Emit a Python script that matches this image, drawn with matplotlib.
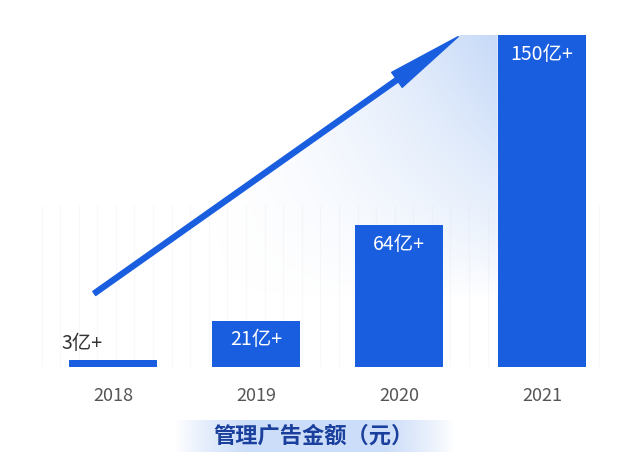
import numpy as np
import matplotlib
matplotlib.use("Agg")
import matplotlib.pyplot as plt
from matplotlib.patches import FancyArrowPatch, Polygon

plt.rcParams['font.family'] = ['Noto Sans CJK SC', 'DejaVu Sans']

years = ["2018", "2019", "2020", "2021"]
values = [3, 21, 64, 150]
labels = ["3亿+", "21亿+", "64亿+", "150亿+"]
title = "管理广告金额（元）"
blue = "#1a5ee0"

fig = plt.figure(figsize=(6.27, 4.72), dpi=100)
ax = fig.add_axes([0, 1 - 367/472, 1, 357/472])
ax.set_xlim(-113/143, 3 + 85/143)
ax.set_ylim(0, 150 * 357 / 332)
ax.axis("off")

# faint vertical lines
for xv in np.arange(-0.5, 3.5, 0.13):
    ax.axvline(xv, ymin=0, ymax=0.45, color="#f7f8fb", lw=0.8, zorder=0)

# gradient shadow under arrow
x0, y0 = -0.147, 32.5
x1, y1 = 2.43, 150
poly = Polygon([[0.6, y0 + (0.6 - x0) * (y1 - y0) / (x1 - x0)], [x1, y1], [2.69, 150], [2.69, 0], [0.6, 0]],
               closed=True, facecolor="none", edgecolor="none")
ax.add_patch(poly)
gx = np.linspace(0, 1, 200)
gy = np.linspace(0, 1, 120)[:, None]
a = (gx[None, :] ** 1.5) * np.clip((gy - 0.2) / 0.8, 0, 1) ** 0.8
img = np.zeros((120, 200, 4))
img[..., 0] = 0.76; img[..., 1] = 0.84; img[..., 2] = 0.97
img[..., 3] = a * 0.95
im = ax.imshow(img, extent=[0.6, 2.69, 0, 155], aspect="auto", origin="lower", zorder=1)
im.set_clip_path(poly)

bars = ax.bar(range(4), values, width=0.615, color=blue, zorder=2)
for i, (v, lab) in enumerate(zip(values, labels)):
    if v < 10:
        ax.text(i - 0.22, v + 3, lab, color="#333333", fontsize=14, va="bottom", ha="center")
    else:
        ax.text(i, v - 4, lab, color="white", fontsize=14, va="top", ha="center")
    ax.text(i, -13, years[i], color="#555555", fontsize=13, ha="center", va="center", clip_on=False)

arr = FancyArrowPatch((x0, y0), (x1, y1), arrowstyle="simple,head_width=1.1,head_length=4.5,tail_width=0.3",
                      mutation_scale=12, color=blue, zorder=3)
ax.add_patch(arr)

# title with gradient background
tax = fig.add_axes([175/627, 1 - 452/472, 280/627, 32/472])
tx = np.linspace(-1, 1, 300)
alpha = np.clip(1.3 - np.abs(tx) ** 2 * 1.3, 0, 1)
img2 = np.zeros((10, 300, 4))
img2[..., 0] = 0.80; img2[..., 1] = 0.87; img2[..., 2] = 0.98
img2[..., 3] = alpha
tax.imshow(img2, aspect="auto", extent=[0, 1, 0, 1])
tax.axis("off")
fig.text(0.5, 1 - 436/472, title, color="#1a3f9c", fontsize=16, fontweight="bold", ha="center", va="center")

fig.savefig("out.png", dpi=100)
